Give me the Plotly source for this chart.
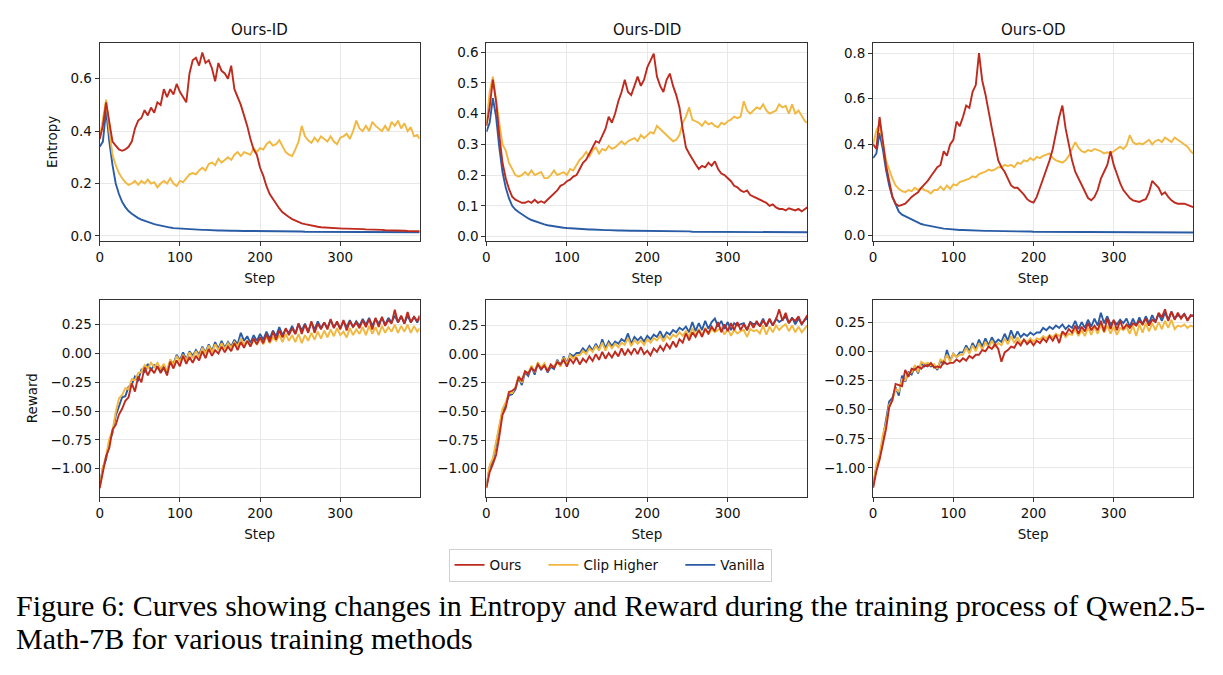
import plotly.graph_objects as go

# ---------------- data ----------------
steps = list(range(0, 400, 4)) + [399]

# Entropy — Ours-ID
ent_id_ours = [
    0.37, 0.42, 0.51, 0.43, 0.36, 0.345, 0.33, 0.325, 0.33, 0.34,
    0.36, 0.41, 0.44, 0.45, 0.48, 0.46, 0.49, 0.47, 0.51, 0.50,
    0.56, 0.53, 0.56, 0.54, 0.58, 0.55, 0.53, 0.51, 0.62, 0.67,
    0.68, 0.65, 0.70, 0.66, 0.67, 0.64, 0.59, 0.66, 0.63, 0.62,
    0.60, 0.65, 0.56, 0.53, 0.50, 0.46, 0.42, 0.37, 0.33, 0.31,
    0.26, 0.23, 0.19, 0.16, 0.14, 0.12, 0.105, 0.09, 0.08, 0.072,
    0.064, 0.058, 0.052, 0.048, 0.045, 0.042, 0.039, 0.037, 0.035, 0.033,
    0.032, 0.031, 0.030, 0.030, 0.029, 0.029, 0.028, 0.028, 0.028, 0.027,
    0.027, 0.026, 0.026, 0.025, 0.025, 0.024, 0.024, 0.023, 0.023, 0.022,
    0.022, 0.021, 0.021, 0.020, 0.020, 0.020, 0.019, 0.019, 0.018, 0.018,
    0.018]
ent_id_clip = [
    0.37, 0.44, 0.52, 0.40, 0.31, 0.27, 0.24, 0.22, 0.205, 0.195,
    0.20, 0.21, 0.195, 0.21, 0.20, 0.215, 0.20, 0.205, 0.185, 0.20,
    0.21, 0.20, 0.22, 0.20, 0.19, 0.21, 0.205, 0.22, 0.235, 0.24,
    0.235, 0.25, 0.26, 0.25, 0.275, 0.28, 0.27, 0.295, 0.28, 0.29,
    0.30, 0.29, 0.31, 0.32, 0.305, 0.32, 0.315, 0.31, 0.335, 0.32,
    0.335, 0.33, 0.35, 0.36, 0.345, 0.35, 0.365, 0.34, 0.32, 0.31,
    0.305, 0.33, 0.36, 0.42, 0.38, 0.365, 0.355, 0.375, 0.36, 0.38,
    0.37, 0.36, 0.38, 0.36, 0.35, 0.375, 0.38, 0.39, 0.37, 0.40,
    0.44, 0.41, 0.40, 0.42, 0.40, 0.435, 0.42, 0.41, 0.40, 0.42,
    0.40, 0.435, 0.42, 0.44, 0.41, 0.43, 0.40, 0.415, 0.38, 0.385,
    0.37]
ent_id_vanilla = [
    0.34, 0.36, 0.48, 0.36, 0.27, 0.20, 0.16, 0.13, 0.11, 0.095,
    0.085, 0.075, 0.068, 0.062, 0.057, 0.052, 0.048, 0.045, 0.042, 0.039,
    0.036, 0.034, 0.032, 0.030, 0.029, 0.028, 0.027, 0.026, 0.025, 0.025,
    0.024, 0.024, 0.023, 0.023, 0.022, 0.022, 0.021, 0.021, 0.021, 0.020,
    0.020, 0.020, 0.020, 0.019, 0.019, 0.019, 0.019, 0.019, 0.018, 0.018,
    0.018, 0.018, 0.018, 0.018, 0.018, 0.017, 0.017, 0.017, 0.017, 0.017,
    0.017, 0.017, 0.017, 0.017, 0.016, 0.016, 0.016, 0.016, 0.016, 0.016,
    0.016, 0.016, 0.016, 0.016, 0.016, 0.016, 0.015, 0.015, 0.015, 0.015,
    0.015, 0.015, 0.015, 0.015, 0.015, 0.015, 0.015, 0.015, 0.014, 0.014,
    0.014, 0.014, 0.014, 0.014, 0.014, 0.014, 0.014, 0.014, 0.014, 0.014,
    0.014]

# Entropy — Ours-DID
ent_did_ours = [
    0.36, 0.42, 0.51, 0.44, 0.33, 0.24, 0.19, 0.155, 0.13, 0.12,
    0.115, 0.11, 0.11, 0.115, 0.11, 0.12, 0.11, 0.115, 0.11, 0.12,
    0.13, 0.14, 0.15, 0.165, 0.17, 0.18, 0.185, 0.195, 0.20, 0.22,
    0.24, 0.25, 0.27, 0.29, 0.31, 0.305, 0.33, 0.35, 0.39, 0.37,
    0.40, 0.44, 0.47, 0.51, 0.47, 0.46, 0.49, 0.52, 0.49, 0.51,
    0.55, 0.57, 0.595, 0.52, 0.49, 0.47, 0.51, 0.53, 0.49, 0.46,
    0.42, 0.35, 0.29, 0.27, 0.25, 0.235, 0.22, 0.23, 0.225, 0.24,
    0.23, 0.245, 0.22, 0.205, 0.20, 0.19, 0.18, 0.165, 0.16, 0.15,
    0.145, 0.15, 0.135, 0.13, 0.125, 0.12, 0.115, 0.11, 0.10, 0.105,
    0.095, 0.09, 0.09, 0.085, 0.092, 0.088, 0.085, 0.09, 0.082, 0.09,
    0.095]
ent_did_clip = [
    0.36, 0.47, 0.52, 0.44, 0.37, 0.30, 0.28, 0.24, 0.22, 0.20,
    0.195, 0.20, 0.21, 0.20, 0.215, 0.20, 0.205, 0.21, 0.19, 0.19,
    0.20, 0.215, 0.20, 0.205, 0.21, 0.20, 0.22, 0.215, 0.235, 0.25,
    0.26, 0.275, 0.26, 0.28, 0.29, 0.27, 0.285, 0.28, 0.295, 0.285,
    0.29, 0.30, 0.31, 0.30, 0.31, 0.315, 0.32, 0.31, 0.33, 0.32,
    0.33, 0.34, 0.335, 0.36, 0.35, 0.34, 0.33, 0.32, 0.31, 0.315,
    0.33, 0.37, 0.39, 0.42, 0.38, 0.375, 0.37, 0.36, 0.375, 0.365,
    0.37, 0.36, 0.355, 0.37, 0.365, 0.375, 0.38, 0.39, 0.385, 0.39,
    0.44, 0.41, 0.40, 0.41, 0.42, 0.415, 0.43, 0.41, 0.40, 0.405,
    0.41, 0.43, 0.42, 0.425, 0.40, 0.43, 0.40, 0.41, 0.39, 0.375,
    0.37]
ent_did_vanilla = [
    0.34, 0.37, 0.45, 0.39, 0.29, 0.21, 0.16, 0.125, 0.10, 0.088,
    0.080, 0.072, 0.065, 0.059, 0.054, 0.050, 0.046, 0.043, 0.040, 0.037,
    0.035, 0.033, 0.031, 0.030, 0.029, 0.028, 0.027, 0.026, 0.025, 0.025,
    0.024, 0.024, 0.023, 0.023, 0.022, 0.022, 0.021, 0.021, 0.021, 0.020,
    0.020, 0.020, 0.020, 0.019, 0.019, 0.019, 0.019, 0.019, 0.018, 0.018,
    0.018, 0.018, 0.018, 0.018, 0.018, 0.017, 0.017, 0.017, 0.017, 0.017,
    0.017, 0.017, 0.017, 0.017, 0.016, 0.016, 0.016, 0.016, 0.016, 0.016,
    0.016, 0.016, 0.016, 0.016, 0.016, 0.016, 0.015, 0.015, 0.015, 0.015,
    0.015, 0.015, 0.015, 0.015, 0.015, 0.015, 0.015, 0.015, 0.014, 0.014,
    0.014, 0.014, 0.014, 0.014, 0.014, 0.014, 0.014, 0.014, 0.014, 0.014,
    0.014]

# Entropy — Ours-OD
ent_od_ours = [
    0.40, 0.38, 0.52, 0.42, 0.31, 0.24, 0.17, 0.14, 0.13, 0.135,
    0.14, 0.155, 0.17, 0.18, 0.19, 0.21, 0.225, 0.24, 0.26, 0.28,
    0.30, 0.31, 0.37, 0.35, 0.40, 0.42, 0.50, 0.48, 0.52, 0.57,
    0.56, 0.63, 0.66, 0.80, 0.68, 0.62, 0.54, 0.47, 0.40, 0.33,
    0.30, 0.28, 0.25, 0.22, 0.21, 0.21, 0.195, 0.18, 0.16, 0.15,
    0.145, 0.17, 0.21, 0.25, 0.29, 0.33, 0.38, 0.45, 0.52, 0.57,
    0.47, 0.40, 0.33, 0.28, 0.25, 0.22, 0.19, 0.165, 0.155, 0.17,
    0.20, 0.25, 0.28, 0.31, 0.37, 0.31, 0.27, 0.23, 0.20, 0.18,
    0.165, 0.155, 0.15, 0.148, 0.155, 0.16, 0.19, 0.24, 0.225, 0.21,
    0.18, 0.19, 0.17, 0.155, 0.145, 0.14, 0.14, 0.14, 0.135, 0.13,
    0.125]
ent_od_clip = [
    0.40, 0.46, 0.49, 0.40, 0.33, 0.29, 0.25, 0.22, 0.205, 0.195,
    0.19, 0.20, 0.195, 0.21, 0.20, 0.21, 0.20, 0.195, 0.185, 0.20,
    0.20, 0.215, 0.20, 0.22, 0.205, 0.225, 0.22, 0.235, 0.24, 0.245,
    0.25, 0.26, 0.255, 0.27, 0.275, 0.28, 0.29, 0.285, 0.29, 0.30,
    0.30, 0.31, 0.305, 0.31, 0.30, 0.32, 0.315, 0.33, 0.325, 0.34,
    0.33, 0.345, 0.34, 0.35, 0.355, 0.36, 0.34, 0.33, 0.325, 0.32,
    0.33, 0.35, 0.38, 0.41, 0.385, 0.37, 0.365, 0.375, 0.37, 0.38,
    0.375, 0.37, 0.36, 0.365, 0.36, 0.37, 0.38, 0.39, 0.38, 0.395,
    0.44, 0.41, 0.40, 0.405, 0.40, 0.41, 0.42, 0.40, 0.415, 0.42,
    0.41, 0.43, 0.42, 0.41, 0.43, 0.42, 0.41, 0.40, 0.39, 0.37,
    0.36]
ent_od_vanilla = [
    0.34, 0.36, 0.45, 0.38, 0.29, 0.22, 0.17, 0.135, 0.105, 0.092,
    0.085, 0.077, 0.069, 0.062, 0.056, 0.051, 0.047, 0.044, 0.041, 0.038,
    0.035, 0.033, 0.031, 0.030, 0.028, 0.027, 0.026, 0.025, 0.025, 0.024,
    0.024, 0.023, 0.023, 0.022, 0.022, 0.021, 0.021, 0.021, 0.020, 0.020,
    0.020, 0.020, 0.019, 0.019, 0.019, 0.019, 0.018, 0.018, 0.018, 0.018,
    0.017, 0.017, 0.017, 0.017, 0.017, 0.017, 0.017, 0.017, 0.016, 0.016,
    0.016, 0.016, 0.016, 0.016, 0.016, 0.016, 0.016, 0.016, 0.016, 0.016,
    0.016, 0.016, 0.015, 0.015, 0.015, 0.015, 0.015, 0.015, 0.015, 0.015,
    0.015, 0.015, 0.015, 0.015, 0.015, 0.015, 0.014, 0.014, 0.014, 0.014,
    0.014, 0.014, 0.014, 0.014, 0.014, 0.014, 0.014, 0.014, 0.014, 0.014,
    0.014]

# Reward — Ours-ID
rew_id_ours = [
    -1.17, -1.03, -0.89, -0.82, -0.66, -0.62, -0.53, -0.48, -0.41, -0.38,
    -0.26, -0.33, -0.20, -0.25, -0.12, -0.19, -0.13, -0.17, -0.11, -0.17,
    -0.12, -0.19, -0.07, -0.13, -0.06, -0.11, -0.02, -0.09, -0.03, -0.08,
    -0.02, -0.06, 0.02, -0.04, 0.04, -0.02, 0.03, 0.00, 0.06, 0.01,
    0.06, 0.02, 0.09, 0.03, 0.10, 0.05, 0.11, 0.06, 0.13, 0.08,
    0.14, 0.09, 0.17, 0.10, 0.19, 0.12, 0.20, 0.14, 0.22, 0.16,
    0.22, 0.17, 0.26, 0.17, 0.25, 0.18, 0.28, 0.18, 0.26, 0.21,
    0.27, 0.21, 0.30, 0.22, 0.28, 0.21, 0.29, 0.20, 0.28, 0.23,
    0.27, 0.22, 0.29, 0.23, 0.30, 0.21, 0.31, 0.23, 0.32, 0.24,
    0.29, 0.26, 0.38, 0.27, 0.33, 0.26, 0.36, 0.27, 0.32, 0.28,
    0.33]
rew_id_clip = [
    -1.16, -0.99, -0.89, -0.74, -0.67, -0.51, -0.39, -0.36, -0.30, -0.31,
    -0.22, -0.23, -0.17, -0.16, -0.10, -0.13, -0.08, -0.12, -0.08, -0.13,
    -0.09, -0.15, -0.05, -0.10, -0.02, -0.07, -0.01, -0.06, 0.01, -0.04,
    0.02, -0.03, 0.05, 0.00, 0.07, 0.01, 0.08, 0.03, 0.09, 0.04,
    0.09, 0.05, 0.10, 0.06, 0.13, 0.08, 0.11, 0.07, 0.12, 0.08,
    0.13, 0.08, 0.15, 0.09, 0.14, 0.11, 0.16, 0.10, 0.17, 0.11,
    0.16, 0.10, 0.17, 0.09, 0.16, 0.11, 0.18, 0.12, 0.19, 0.13,
    0.20, 0.14, 0.21, 0.15, 0.22, 0.16, 0.19, 0.14, 0.22, 0.16,
    0.21, 0.17, 0.23, 0.16, 0.24, 0.17, 0.23, 0.16, 0.24, 0.18,
    0.23, 0.19, 0.25, 0.18, 0.24, 0.19, 0.25, 0.18, 0.24, 0.19,
    0.22]
rew_id_vanilla = [
    -1.15, -0.99, -0.92, -0.76, -0.69, -0.54, -0.46, -0.38, -0.37, -0.29,
    -0.27, -0.20, -0.23, -0.14, -0.16, -0.09, -0.14, -0.10, -0.12, -0.15,
    -0.10, -0.16, -0.06, -0.09, -0.01, -0.06, 0.01, -0.05, 0.02, -0.02,
    0.03, -0.01, 0.06, 0.01, 0.08, 0.02, 0.10, 0.04, 0.11, 0.05,
    0.10, 0.06, 0.12, 0.08, 0.18, 0.11, 0.15, 0.09, 0.16, 0.11,
    0.17, 0.12, 0.19, 0.13, 0.20, 0.15, 0.23, 0.16, 0.21, 0.18,
    0.24, 0.17, 0.26, 0.20, 0.26, 0.19, 0.27, 0.21, 0.28, 0.22,
    0.27, 0.22, 0.29, 0.23, 0.27, 0.22, 0.28, 0.23, 0.29, 0.23,
    0.28, 0.24, 0.30, 0.25, 0.31, 0.24, 0.30, 0.26, 0.31, 0.25,
    0.31, 0.27, 0.33, 0.27, 0.32, 0.26, 0.33, 0.27, 0.32, 0.27,
    0.31]

# Reward — Ours-DID
rew_did_ours = [
    -1.17, -1.03, -0.96, -0.88, -0.72, -0.53, -0.47, -0.33, -0.32, -0.30,
    -0.20, -0.23, -0.15, -0.17, -0.12, -0.15, -0.09, -0.13, -0.10, -0.15,
    -0.09, -0.12, -0.07, -0.09, -0.05, -0.11, -0.04, -0.08, -0.03, -0.09,
    -0.04, -0.07, -0.02, -0.06, 0.00, -0.05, 0.02, -0.04, 0.01, -0.03,
    0.02, -0.02, 0.05, -0.01, 0.04, 0.00, 0.05, 0.00, 0.06, 0.00,
    0.03, -0.01, 0.05, 0.02, 0.07, 0.03, 0.09, 0.05, 0.11, 0.06,
    0.13, 0.10, 0.18, 0.12, 0.19, 0.15, 0.21, 0.15, 0.22, 0.18,
    0.24, 0.20, 0.28, 0.19, 0.26, 0.20, 0.27, 0.21, 0.28, 0.21,
    0.26, 0.21, 0.28, 0.23, 0.29, 0.24, 0.29, 0.25, 0.31, 0.25,
    0.30, 0.39, 0.29, 0.36, 0.27, 0.31, 0.29, 0.33, 0.26, 0.30,
    0.34]
rew_did_clip = [
    -1.16, -0.97, -0.91, -0.76, -0.62, -0.48, -0.42, -0.34, -0.34, -0.29,
    -0.19, -0.25, -0.15, -0.17, -0.10, -0.16, -0.07, -0.12, -0.08, -0.14,
    -0.10, -0.11, -0.06, -0.11, -0.03, -0.09, -0.01, -0.04, -0.01, -0.01,
    0.03, 0.00, 0.05, 0.02, 0.07, 0.03, 0.10, 0.03, 0.09, 0.05,
    0.09, 0.06, 0.10, 0.08, 0.14, 0.07, 0.12, 0.09, 0.12, 0.08,
    0.13, 0.10, 0.14, 0.12, 0.16, 0.11, 0.16, 0.13, 0.17, 0.15,
    0.19, 0.16, 0.20, 0.15, 0.23, 0.16, 0.22, 0.16, 0.23, 0.17,
    0.22, 0.19, 0.21, 0.23, 0.17, 0.22, 0.16, 0.21, 0.18, 0.20,
    0.21, 0.15, 0.22, 0.20, 0.21, 0.18, 0.25, 0.17, 0.24, 0.19,
    0.25, 0.21, 0.24, 0.26, 0.20, 0.25, 0.19, 0.24, 0.19, 0.23,
    0.25]
rew_did_vanilla = [
    -1.15, -0.99, -0.93, -0.78, -0.64, -0.50, -0.44, -0.36, -0.35, -0.31,
    -0.20, -0.27, -0.16, -0.19, -0.11, -0.18, -0.08, -0.14, -0.09, -0.16,
    -0.11, -0.13, -0.05, -0.10, -0.02, -0.08, 0.00, -0.02, 0.01, 0.01,
    0.05, 0.02, 0.07, 0.03, 0.09, 0.04, 0.13, 0.05, 0.11, 0.07,
    0.11, 0.09, 0.13, 0.11, 0.18, 0.09, 0.15, 0.12, 0.15, 0.11,
    0.16, 0.13, 0.17, 0.15, 0.20, 0.14, 0.19, 0.17, 0.21, 0.19,
    0.23, 0.21, 0.24, 0.19, 0.28, 0.20, 0.27, 0.21, 0.29, 0.22,
    0.28, 0.31, 0.24, 0.29, 0.22, 0.28, 0.21, 0.27, 0.25, 0.26,
    0.27, 0.21, 0.28, 0.26, 0.27, 0.25, 0.31, 0.24, 0.30, 0.25,
    0.31, 0.28, 0.30, 0.33, 0.27, 0.32, 0.26, 0.31, 0.26, 0.30,
    0.31]

# Reward — Ours-OD
rew_od_ours = [
    -1.17, -1.03, -0.93, -0.80, -0.67, -0.48, -0.42, -0.28, -0.29, -0.30,
    -0.16, -0.22, -0.15, -0.16, -0.13, -0.15, -0.12, -0.13, -0.10, -0.14,
    -0.13, -0.14, -0.09, -0.11, -0.10, -0.10, -0.07, -0.09, -0.06, -0.08,
    -0.04, -0.06, -0.03, -0.03, 0.01, 0.00, 0.04, 0.02, 0.06, 0.02,
    -0.09, -0.01, 0.01, 0.04, 0.03, 0.08, 0.05, 0.10, 0.06, 0.09,
    0.05, 0.09, 0.07, 0.11, 0.08, 0.13, 0.09, 0.14, 0.07, 0.17,
    0.14, 0.19, 0.16, 0.22, 0.15, 0.21, 0.17, 0.24, 0.18, 0.22,
    0.18, 0.26, 0.17, 0.28, 0.19, 0.27, 0.18, 0.26, 0.19, 0.23,
    0.20, 0.24, 0.22, 0.26, 0.23, 0.28, 0.22, 0.27, 0.25, 0.33,
    0.29, 0.36, 0.26, 0.34, 0.27, 0.33, 0.28, 0.32, 0.26, 0.31,
    0.30]
rew_od_clip = [
    -1.16, -0.97, -0.89, -0.72, -0.62, -0.46, -0.42, -0.32, -0.35, -0.24,
    -0.25, -0.19, -0.18, -0.12, -0.18, -0.09, -0.11, -0.10, -0.12, -0.11,
    -0.15, -0.07, -0.09, -0.03, -0.09, -0.02, -0.05, -0.03, -0.03, 0.03,
    -0.02, 0.05, 0.00, 0.07, 0.01, 0.08, 0.03, 0.09, 0.04, 0.07,
    0.05, 0.11, 0.06, 0.13, 0.07, 0.12, 0.07, 0.10, 0.08, 0.11,
    0.08, 0.11, 0.10, 0.13, 0.11, 0.14, 0.12, 0.15, 0.13, 0.16,
    0.12, 0.15, 0.14, 0.19, 0.13, 0.18, 0.13, 0.20, 0.14, 0.21,
    0.15, 0.23, 0.16, 0.22, 0.15, 0.21, 0.14, 0.20, 0.18, 0.21,
    0.15, 0.22, 0.13, 0.23, 0.16, 0.24, 0.17, 0.24, 0.18, 0.25,
    0.19, 0.26, 0.20, 0.27, 0.19, 0.22, 0.21, 0.23, 0.20, 0.22,
    0.21]
rew_od_vanilla = [
    -1.15, -0.99, -0.91, -0.74, -0.60, -0.43, -0.40, -0.31, -0.38, -0.21,
    -0.26, -0.18, -0.20, -0.13, -0.19, -0.10, -0.13, -0.11, -0.13, -0.12,
    -0.16, -0.08, -0.11, 0.01, -0.08, -0.02, -0.05, -0.01, -0.01, 0.05,
    0.00, 0.07, 0.02, 0.10, 0.04, 0.11, 0.05, 0.12, 0.07, 0.10,
    0.08, 0.15, 0.09, 0.18, 0.11, 0.17, 0.12, 0.15, 0.13, 0.16,
    0.14, 0.16, 0.16, 0.20, 0.18, 0.21, 0.19, 0.22, 0.20, 0.23,
    0.19, 0.22, 0.20, 0.26, 0.19, 0.25, 0.20, 0.27, 0.21, 0.28,
    0.22, 0.33, 0.24, 0.30, 0.23, 0.26, 0.23, 0.27, 0.24, 0.28,
    0.21, 0.28, 0.22, 0.29, 0.23, 0.30, 0.24, 0.31, 0.25, 0.32,
    0.26, 0.33, 0.27, 0.34, 0.28, 0.31, 0.29, 0.32, 0.27, 0.30,
    0.31]

panel_titles = ["Ours-ID", "Ours-DID", "Ours-OD"]
method_names = ["Ours", "Clip Higher", "Vanilla"]
x_ticks = [0, 100, 200, 300]
ent_ticks = [[0.0, 0.2, 0.4, 0.6],
             [0.0, 0.1, 0.2, 0.3, 0.4, 0.5, 0.6],
             [0.0, 0.2, 0.4, 0.6, 0.8]]
rew_ticks = [-1.00, -0.75, -0.50, -0.25, 0.00, 0.25]
caption_lines = [
    "Figure 6: Curves showing changes in Entropy and Reward during the training process of Qwen2.5-",
    "Math-7B for various training methods",
]

entropy = [
    {"Ours": ent_id_ours, "Clip Higher": ent_id_clip, "Vanilla": ent_id_vanilla},
    {"Ours": ent_did_ours, "Clip Higher": ent_did_clip, "Vanilla": ent_did_vanilla},
    {"Ours": ent_od_ours, "Clip Higher": ent_od_clip, "Vanilla": ent_od_vanilla},
]
reward = [
    {"Ours": rew_id_ours, "Clip Higher": rew_id_clip, "Vanilla": rew_id_vanilla},
    {"Ours": rew_did_ours, "Clip Higher": rew_did_clip, "Vanilla": rew_did_vanilla},
    {"Ours": rew_od_ours, "Clip Higher": rew_od_clip, "Vanilla": rew_od_vanilla},
]
for grp in entropy + reward:
    for k, v in grp.items():
        assert len(v) == len(steps), (k, len(v))

# ---------------- style ----------------
W, H = 1223, 675
colors = {"Ours": "#BF2A1E", "Clip Higher": "#F2B73F", "Vanilla": "#2A5CA5"}
draw_order = ["Vanilla", "Clip Higher", "Ours"]
legend_rank = {"Ours": 1, "Clip Higher": 2, "Vanilla": 3}
legend_pad = {"Ours": "\u00a0\u00a0\u00a0\u00a0", "Clip Higher": "\u00a0\u00a0\u00a0\u00a0", "Vanilla": ""}

col_px = [(96, 417), (484, 806), (872, 1193)]
row_px = [(43, 242), (301, 499)]
ent_ranges = [[-0.019, 0.737], [-0.014, 0.630], [-0.023, 0.845]]
rew_ranges = [[-1.244, 0.468], [-1.245, 0.475], [-1.247, 0.442]]

FS = 13.5
lab_font = dict(family="DejaVu Sans", size=FS, color="#111")
fig = go.Figure()
axis_common = dict(showline=True, mirror=True, linecolor="#333", linewidth=1.1,
                   ticks="outside", ticklen=4, tickcolor="#333", tickwidth=1,
                   showgrid=True, gridcolor="#E8E8E8", gridwidth=1,
                   zeroline=False, tickfont=lab_font)

layout = {}
for r in range(2):
    for c in range(3):
        idx = r * 3 + c + 1
        xa = "x" if idx == 1 else f"x{idx}"
        ya = "y" if idx == 1 else f"y{idx}"
        data = entropy[c] if r == 0 else reward[c]
        for m in draw_order:
            fig.add_trace(go.Scatter(
                x=steps, y=data[m], mode="lines", name=m + legend_pad[m],
                line=dict(color=colors[m], width=1.9),
                xaxis=xa, yaxis=ya,
                showlegend=(idx == 1), legendrank=legend_rank[m]))
        x0, x1 = col_px[c]
        y0, y1 = row_px[r]
        xkey = "xaxis" if idx == 1 else f"xaxis{idx}"
        ykey = "yaxis" if idx == 1 else f"yaxis{idx}"
        layout[xkey] = dict(axis_common, domain=[x0 / W, x1 / W], range=[0, 399],
                            tickvals=x_ticks, anchor=ya,
                            title=dict(text="Step", font=lab_font, standoff=9))
        if r == 0:
            yd = dict(axis_common, domain=[1 - y1 / H, 1 - y0 / H], range=ent_ranges[c],
                      tickvals=ent_ticks[c], tickformat=".1f", anchor=xa)
            if c == 0:
                yd["title"] = dict(text="Entropy", font=lab_font, standoff=9)
        else:
            yd = dict(axis_common, domain=[1 - y1 / H, 1 - y0 / H], range=rew_ranges[c],
                      tickvals=rew_ticks, tickformat=".2f", anchor=xa)
            if c == 0:
                yd["title"] = dict(text="Reward", font=lab_font, standoff=9)
        layout[ykey] = yd

annotations = []
for c, t in enumerate(panel_titles):
    x0, x1 = col_px[c]
    annotations.append(dict(text=t, x=(x0 + x1) / 2 / W, y=1 - 30 / H, xref="paper", yref="paper",
                            showarrow=False, xanchor="center", yanchor="middle",
                            font=dict(family="DejaVu Sans", size=15, color="#111")))
caption_font = dict(family="Liberation Serif", size=30, color="#000")
for i, line in enumerate(caption_lines):
    annotations.append(dict(text=line, x=10 / W, y=1 - (608 + 33 * i) / H, xref="paper", yref="paper",
                            showarrow=False, xanchor="left", yanchor="middle", font=caption_font))

fig.update_layout(
    width=W, height=H,
    margin=dict(l=0, r=0, t=0, b=0),
    paper_bgcolor="white", plot_bgcolor="white",
    showlegend=True,
    legend=dict(orientation="h", x=608 / W, y=1 - 551 / H, xanchor="center", yanchor="top",
                bordercolor="#D0D0D0", borderwidth=1, bgcolor="white",
                font=lab_font, traceorder="normal", itemwidth=30),
    annotations=annotations,
    **layout,
)

fig.write_html("out.html")
